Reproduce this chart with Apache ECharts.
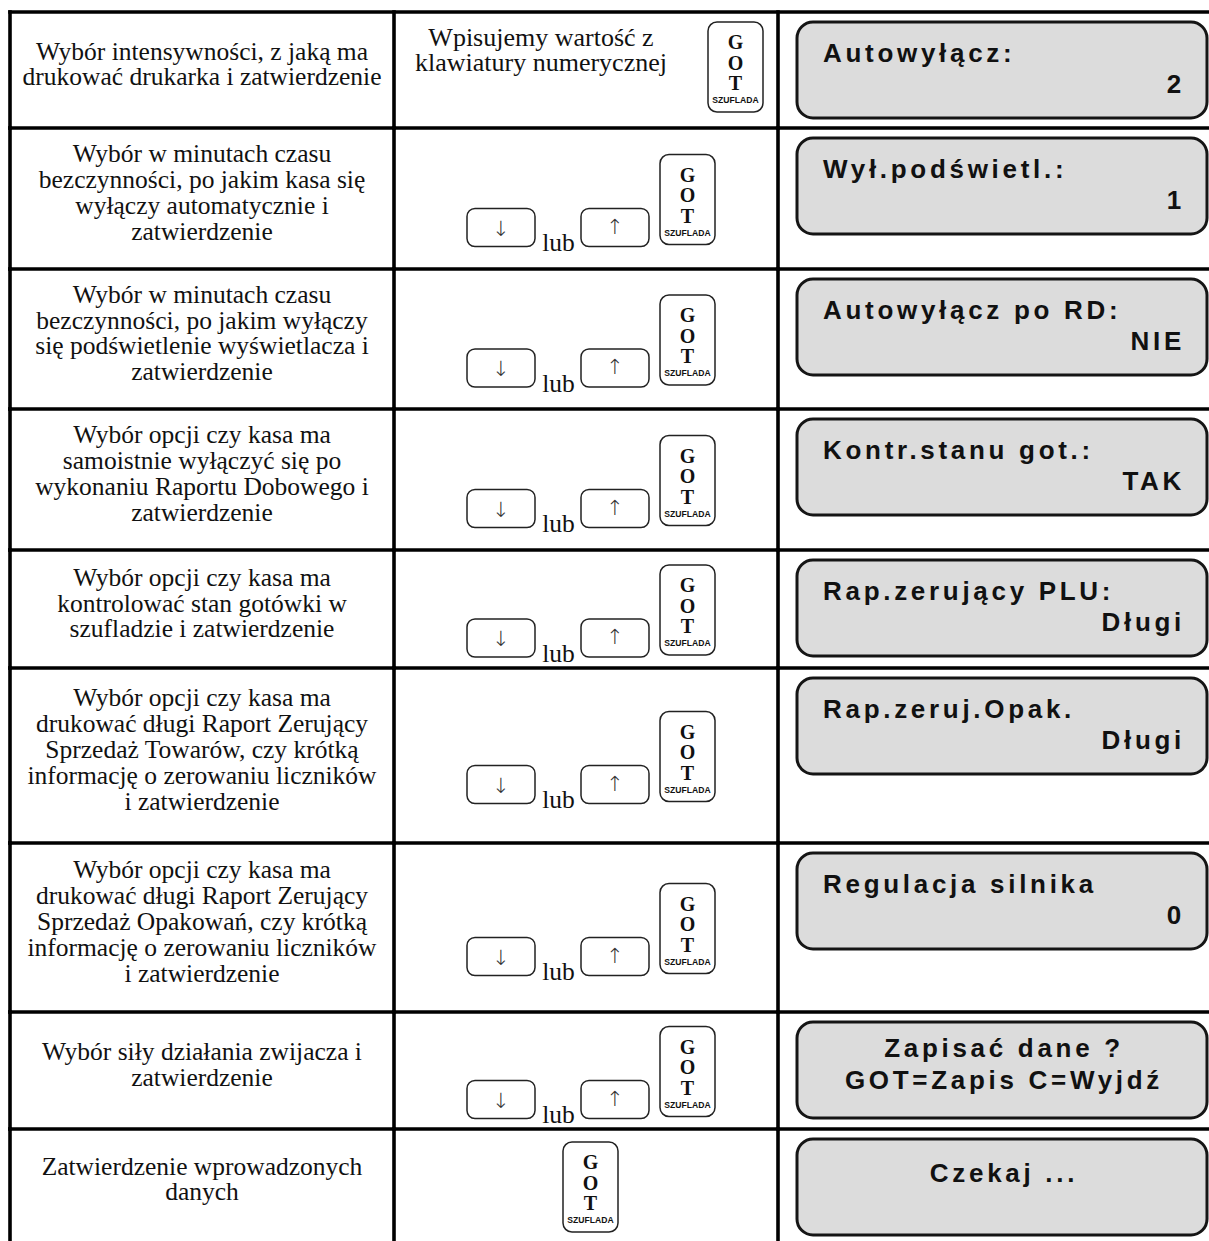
<!DOCTYPE html>
<html>
<head>
<meta charset="utf-8">
<script src="https://cdn.jsdelivr.net/npm/echarts@6/dist/echarts.min.js"></script>
<style>
html, body { margin: 0; padding: 0; background: #ffffff; }
#main { width: 1209px; height: 1241px; }
#main text[style*="Arial"] { letter-spacing: 3.7px; }
</style>
</head>
<body>
<div id="main"></div>
<script>
// ---------- data ----------
const stepDescriptions = [
  ['Wybór intensywności, z jaką ma', 'drukować drukarka i zatwierdzenie'],
  ['Wybór w minutach czasu', 'bezczynności, po jakim kasa się', 'wyłączy automatycznie i', 'zatwierdzenie'],
  ['Wybór w minutach czasu', 'bezczynności, po jakim wyłączy', 'się podświetlenie wyświetlacza i', 'zatwierdzenie'],
  ['Wybór opcji czy kasa ma', 'samoistnie wyłączyć się po', 'wykonaniu Raportu Dobowego i', 'zatwierdzenie'],
  ['Wybór opcji czy kasa ma', 'kontrolować stan gotówki w', 'szufladzie i zatwierdzenie'],
  ['Wybór opcji czy kasa ma', 'drukować długi Raport Zerujący', 'Sprzedaż Towarów, czy krótką', 'informację o zerowaniu liczników', 'i zatwierdzenie'],
  ['Wybór opcji czy kasa ma', 'drukować długi Raport Zerujący', 'Sprzedaż Opakowań, czy krótką', 'informację o zerowaniu liczników', 'i zatwierdzenie'],
  ['Wybór siły działania zwijacza i', 'zatwierdzenie'],
  ['Zatwierdzenie wprowadzonych', 'danych']
];
const keyActions = ['type', 'arrows', 'arrows', 'arrows', 'arrows', 'arrows', 'arrows', 'arrows', 'confirm'];
const typedHint = ['Wpisujemy wartość z', 'klawiatury numerycznej'];
const arrowKeys = ['↓', '↑'];
const orWord = 'lub';
const gotKeyLetters = ['G', 'O', 'T'];
const gotKeyCaption = 'SZUFLADA';
const displayTop = ['Autowyłącz:', 'Wył.podświetl.:', 'Autowyłącz po RD:', 'Kontr.stanu got.:', 'Rap.zerujący PLU:', 'Rap.zeruj.Opak.', 'Regulacja silnika', 'Zapisać dane ?', 'Czekaj ...'];
const displayBottom = ['2', '1', 'NIE', 'TAK', 'Długi', 'Długi', '0', 'GOT=Zapis C=Wyjdź', ''];
const displayCentered = [false, false, false, false, false, false, false, true, true];

// ---------- layout (positions / sizes / styles) ----------
const LAYOUT = {
  width: 1209, height: 1241,
  colEdges: [10, 394, 778, 1209],
  rowEdges: [12, 128, 269, 409, 550, 668, 843, 1012, 1129, 1241]
};
const SERIF = '"Liberation Serif", "Times New Roman", serif';
const DISPLAY_FONT = 'bold 26px Arial, "Liberation Sans", sans-serif';
const ARROW_FONT = '200 21px "DejaVu Sans", sans-serif';

const chart = echarts.init(document.getElementById('main'), null, { renderer: 'svg', width: 1209, height: 1241 });

function renderItem(params, api) {
  const i = api.value(0);
  const y0 = LAYOUT.rowEdges[i], y1 = LAYOUT.rowEdges[i + 1];
  const ce = LAYOUT.colEdges;
  const P = (x, y) => api.coord([x, y]);
  const children = [];

  const line = (xa, ya, xb, yb) => {
    const a = P(xa, ya), b = P(xb, yb);
    children.push({ type: 'line', shape: { x1: a[0], y1: a[1], x2: b[0], y2: b[1] },
      style: { stroke: '#000', lineWidth: 3.6, lineCap: 'square' } });
  };
  const rrect = (x, y, w, h, r, fill, stroke, lw) => {
    const a = P(x, y), b = P(x + w, y + h);
    children.push({ type: 'rect', shape: { x: a[0], y: a[1], width: b[0] - a[0], height: b[1] - a[1], r: r },
      style: { fill: fill, stroke: stroke, lineWidth: lw } });
  };
  const txt = (x, y, text, font, align, vAlign, extra) => {
    const p = P(x, y);
    children.push({ type: 'text', style: Object.assign({
      text: text, x: p[0], y: p[1], font: font, fill: '#111',
      align: align, verticalAlign: vAlign, textAlign: align, textVerticalAlign: vAlign
    }, extra || {}) });
  };
  const gotKey = (x, y) => {
    rrect(x, y, 55, 90, 9, '#fff', '#222', 1.5);
    gotKeyLetters.forEach((L, k) => txt(x + 27.5, y + 20 + k * 20.5, L, 'bold 20px ' + SERIF, 'center', 'middle'));
    txt(x + 27.5, y + 78, gotKeyCaption, 'bold 8.6px "Liberation Sans", sans-serif', 'center', 'middle');
  };

  // grid lines
  line(ce[0], y0, ce[3], y0);
  for (let c = 0; c < 3; c++) line(ce[c], y0, ce[c], y1);

  // column 1: description
  const mid = (y0 + y1) / 2;
  txt((ce[0] + ce[1]) / 2, mid - 6, stepDescriptions[i].join('\n'), '25.5px ' + SERIF, 'center', 'middle', { lineHeight: 25.8 });

  // column 2: keys
  const act = keyActions[i];
  if (act === 'type') {
    txt(541, y0 + 37.5, typedHint.join('\n'), '26px ' + SERIF, 'center', 'middle', { lineHeight: 25 });
    gotKey(708, y0 + 10);
  } else if (act === 'arrows') {
    const gTop = mid - 44;
    const kBottom = gTop + 92;
    rrect(467, kBottom - 38, 68, 38, 8, '#fff', '#222', 1.5);
    txt(501, kBottom - 18, arrowKeys[0], ARROW_FONT, 'center', 'middle', { fill: '#333' });
    txt(558.5, kBottom - 4, orWord, '25.5px ' + SERIF, 'center', 'middle');
    rrect(581, kBottom - 38, 68, 38, 8, '#fff', '#222', 1.5);
    txt(615, kBottom - 20, arrowKeys[1], ARROW_FONT, 'center', 'middle', { fill: '#333' });
    gotKey(660, gTop);
  } else {
    gotKey(563, mid - 43);
  }

  // column 3: display
  const bTop = y0 + 10;
  rrect(797, bTop, 410, 96, 16, '#dcdcdc', '#151515', 3);
  if (displayCentered[i]) {
    if (displayBottom[i]) {
      txt(1004, bTop + 26, displayTop[i], DISPLAY_FONT, 'center', 'middle');
      txt(1004, bTop + 58, displayBottom[i], DISPLAY_FONT, 'center', 'middle');
    } else {
      txt(1004, bTop + 34, displayTop[i], DISPLAY_FONT, 'center', 'middle');
    }
  } else {
    txt(823, bTop + 31, displayTop[i], DISPLAY_FONT, 'left', 'middle');
    txt(1185, bTop + 62, displayBottom[i], DISPLAY_FONT, 'right', 'middle');
  }

  return { type: 'group', children: children };
}

chart.setOption({
  animation: false,
  backgroundColor: '#ffffff',
  grid: { left: 0, right: 0, top: 0, bottom: 0 },
  xAxis: { type: 'value', min: 0, max: LAYOUT.width, show: false },
  yAxis: { type: 'value', min: 0, max: LAYOUT.height, inverse: true, show: false },
  series: [{
    type: 'custom',
    coordinateSystem: 'cartesian2d',
    clip: false,
    silent: true,
    renderItem: renderItem,
    data: stepDescriptions.map((d, i) => [i, i])
  }]
});
</script>
</body>
</html>
